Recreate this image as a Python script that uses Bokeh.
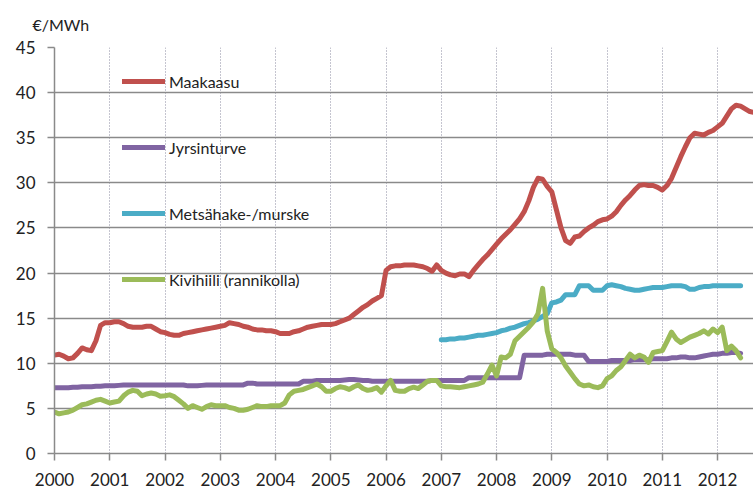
import numpy as np
from bokeh.plotting import figure
from bokeh.models import (Range1d, SingleIntervalTicker, Legend, LegendItem,
                          Title, ColumnDataSource)
from bokeh.embed import file_html
from bokeh.resources import INLINE

# Monthly price series, €/MWh
start_year = 2000
maakaasu = [
    10.9, 11.0, 10.8, 10.5, 10.6, 11.1, 11.7, 11.5, 11.4, 12.5, 14.2, 14.5,
    14.5, 14.6, 14.6, 14.4, 14.1, 14.0, 14.0, 14.0, 14.1, 14.1, 13.8, 13.5,
    13.4, 13.2, 13.1, 13.1, 13.3, 13.4, 13.5, 13.6, 13.7, 13.8, 13.9, 14.0,
    14.1, 14.2, 14.5, 14.4, 14.3, 14.1, 14.0, 13.8, 13.7, 13.7, 13.6, 13.6,
    13.5, 13.3, 13.3, 13.3, 13.5, 13.6, 13.8, 14.0, 14.1, 14.2, 14.3, 14.3,
    14.3, 14.4, 14.6, 14.8, 15.0, 15.4, 15.8, 16.2, 16.5, 16.9, 17.2, 17.5,
    20.3, 20.7, 20.8, 20.8, 20.9, 20.9, 20.9, 20.8, 20.7, 20.5, 20.2, 20.9,
    20.3, 20.0, 19.8, 19.7, 19.9, 19.9, 19.6, 20.3, 20.9, 21.5, 22.0, 22.6,
    23.2, 23.8, 24.3, 24.8, 25.4, 26.0, 26.8, 28.0, 29.5, 30.5, 30.4, 29.6,
    29.0, 27.0, 25.0, 23.6, 23.3, 24.0, 24.1, 24.6, 25.0, 25.3, 25.7, 25.9,
    26.0, 26.3, 26.8, 27.5, 28.1, 28.6, 29.2, 29.7, 29.8, 29.7, 29.7, 29.5,
    29.2, 29.7, 30.5, 31.7, 32.9, 34.0, 35.0, 35.5, 35.4, 35.3, 35.6, 35.8,
    36.2, 36.6, 37.4, 38.2, 38.6, 38.5, 38.2, 37.9, 37.8,
]
jyrsinturve = [
    7.3, 7.3, 7.3, 7.3, 7.35, 7.35, 7.4, 7.4, 7.4, 7.45, 7.45, 7.5,
    7.5, 7.5, 7.55, 7.6, 7.6, 7.6, 7.6, 7.6, 7.6, 7.6, 7.6, 7.6,
    7.6, 7.6, 7.6, 7.6, 7.6, 7.5, 7.5, 7.5, 7.55, 7.6, 7.6, 7.6,
    7.6, 7.6, 7.6, 7.6, 7.6, 7.6, 7.8, 7.8, 7.7, 7.7, 7.7, 7.7,
    7.7, 7.7, 7.7, 7.7, 7.7, 7.7, 8.0, 8.0, 8.0, 8.1, 8.1, 8.1,
    8.1, 8.1, 8.1, 8.15, 8.2, 8.2, 8.15, 8.1, 8.1, 8.0, 8.0, 8.0,
    8.0, 8.0, 8.0, 8.0, 8.0, 8.0, 8.0, 8.0, 8.0, 8.0, 8.1, 8.1,
    8.1, 8.1, 8.1, 8.1, 8.1, 8.1, 8.4, 8.4, 8.4, 8.4, 8.4, 8.4,
    8.4, 8.4, 8.4, 8.4, 8.4, 8.4, 10.9, 10.9, 10.9, 10.9, 10.9, 11.0,
    11.0, 11.0, 11.0, 11.0, 11.0, 10.9, 10.9, 10.9, 10.2, 10.2, 10.2, 10.2,
    10.2, 10.3, 10.3, 10.3, 10.3, 10.3, 10.4, 10.4, 10.4, 10.4, 10.5, 10.5,
    10.5, 10.5, 10.6, 10.6, 10.7, 10.7, 10.6, 10.6, 10.7, 10.8, 10.9, 11.0,
    11.0, 11.1, 11.1, 11.2, 11.2, 11.1,
]
metsahake_start_year = 2007
metsahake = [
    12.6, 12.6, 12.7, 12.7, 12.8, 12.8, 12.9, 13.0, 13.1, 13.1, 13.2, 13.3,
    13.4, 13.6, 13.7, 13.9, 14.0, 14.2, 14.4, 14.5, 14.7, 14.9, 15.2, 15.5,
    16.7, 16.8, 17.0, 17.6, 17.6, 17.6, 18.6, 18.6, 18.6, 18.1, 18.1, 18.1,
    18.6, 18.7, 18.6, 18.5, 18.3, 18.2, 18.1, 18.1, 18.2, 18.3, 18.4, 18.4,
    18.4, 18.5, 18.6, 18.6, 18.6, 18.5, 18.2, 18.2, 18.4, 18.5, 18.5, 18.6,
    18.6, 18.6, 18.6, 18.6, 18.6, 18.6,
]
kivihiili = [
    4.6, 4.4, 4.5, 4.6, 4.8, 5.1, 5.4, 5.5, 5.7, 5.9, 6.0, 5.8,
    5.6, 5.7, 5.8, 6.4, 6.8, 7.0, 6.9, 6.4, 6.6, 6.7, 6.6, 6.35,
    6.4, 6.5, 6.3, 5.9, 5.5, 5.0, 5.3, 5.1, 4.9, 5.2, 5.4, 5.3,
    5.3, 5.3, 5.1, 5.0, 4.8, 4.8, 4.9, 5.1, 5.3, 5.2, 5.2, 5.3,
    5.3, 5.3, 5.6, 6.5, 6.9, 7.0, 7.1, 7.3, 7.5, 7.7, 7.4, 6.9,
    6.9, 7.2, 7.4, 7.3, 7.1, 7.4, 7.6, 7.2, 7.0, 7.1, 7.3, 6.8,
    7.5, 8.1, 7.0, 6.9, 6.9, 7.2, 7.35, 7.2, 7.6, 8.0, 8.1, 8.1,
    7.5, 7.4, 7.4, 7.35, 7.3, 7.4, 7.5, 7.6, 7.7, 7.9, 8.8, 9.8,
    8.6, 10.7, 10.6, 11.0, 12.5, 13.0, 13.5, 14.0, 14.6, 15.5, 18.3, 13.6,
    11.6, 11.2, 10.6, 9.7, 9.0, 8.3, 7.7, 7.5, 7.6, 7.4, 7.3, 7.5,
    8.3, 8.6, 9.2, 9.6, 10.3, 11.0, 10.6, 10.9, 10.7, 10.1, 11.2, 11.3,
    11.4, 12.4, 13.45, 12.7, 12.3, 12.6, 12.9, 13.1, 13.3, 13.6, 13.25, 13.8,
    13.4, 14.0, 11.4, 11.9, 11.4, 10.6,
]
series_names = ["Maakaasu", "Jyrsinturve", "Metsähake-/murske", "Kivihiili (rannikolla)"]
series_colors = ["#C0504D", "#8064A2", "#4BACC6", "#9BBB59"]
unit_label = "€/MWh"


def months(start, values):
    return start + np.arange(len(values)) / 12.0


FONT = "Lato"

p = figure(width=753, height=488, output_backend="svg", toolbar_location=None,
           x_range=Range1d(2000, 2012.65), y_range=Range1d(0, 45),
           min_border_left=54, min_border_right=0, min_border_top=47,
           min_border_bottom=35, outline_line_color=None)
p.background_fill_color = "white"
p.border_fill_color = "white"

p.title = Title(text=unit_label, align="left", offset=-22, standoff=24,
                vertical_align="top",
                text_font=FONT, text_font_size="16px", text_font_style="normal",
                text_color="#222222")

p.xaxis.ticker = SingleIntervalTicker(interval=1)
p.yaxis.ticker = SingleIntervalTicker(interval=5)
for ax in (p.xaxis, p.yaxis):
    ax.axis_line_color = "#8a8a8a"
    ax.axis_line_width = 1.5
    ax.major_tick_line_color = "#8a8a8a"
    ax.major_tick_line_width = 1.5
    ax.minor_tick_line_color = None
    ax.major_label_text_font = FONT
    ax.major_label_text_color = "#222222"
    ax.major_tick_in = 0
    ax.major_tick_out = 7
p.xaxis.major_label_text_font_size = "17px"
p.yaxis.major_label_text_font_size = "17px"
p.xaxis.major_label_standoff = 12
p.yaxis.major_label_standoff = 12

p.ygrid.grid_line_color = "#8a8a8a"
p.ygrid.grid_line_width = 1.5
p.xgrid.grid_line_color = "#8a8aa0"
p.xgrid.grid_line_width = 1
p.xgrid.grid_line_dash = "1 2"

data = [
    (months(start_year, maakaasu), maakaasu),
    (months(start_year, jyrsinturve), jyrsinturve),
    (months(metsahake_start_year, metsahake), metsahake),
    (months(start_year, kivihiili), kivihiili),
]
renderers = []
for (xs, ys), color in zip(data, series_colors):
    src = ColumnDataSource(dict(x=xs, y=ys))
    r = p.line("x", "y", source=src, line_color=color, line_width=5,
               line_join="round", line_cap="round")
    renderers.append(r)

legend = Legend(items=[LegendItem(label=n, renderers=[r])
                       for n, r in zip(series_names, renderers)],
                location=(68, 164), orientation="vertical",
                glyph_width=43, glyph_height=20, label_height=20,
                spacing=46, padding=0, margin=0, label_standoff=4,
                label_text_font=FONT, label_text_font_size="16px",
                label_text_color="#222222",
                background_fill_alpha=0, border_line_alpha=0)
p.add_layout(legend)

open("out.html", "w").write(file_html(p, INLINE))
